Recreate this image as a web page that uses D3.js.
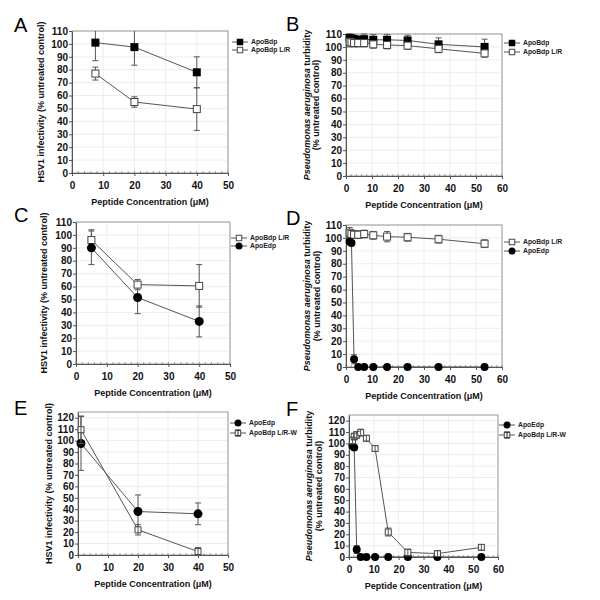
<!DOCTYPE html>
<html><head><meta charset="utf-8">
<script src="https://cdn.jsdelivr.net/npm/d3@7"></script>
<style>body{margin:0;background:#fff}svg{display:block}text{font-family:"Liberation Sans",Arial,sans-serif}</style>
</head><body><svg id="c" width="600" height="600"></svg>
<script>
// ---------- DATA ----------
const xTitle = "Peptide Concentration (\u03bcM)";
const hsvTitle = "HSV1 infectivity (% untreated control)";
const lblApoBdp = "ApoBdp", lblLR = "ApoBdp L/R", lblEdp = "ApoEdp", lblLRW = "ApoBdp L/R-W";

// Panel A
const aX = [7.5, 20, 40];
const aApoBdp = [101, 97.5, 78];
const aApoBdpErr = [14, 14, 12];
const aApoBdpLR = [77, 55, 49.5];
const aApoBdpLRErr = [5, 4, 16.5];

// Panels B, D, F concentrations
const bX = [1.4, 2.1, 3.1, 4.7, 7.0, 10.5, 15.8, 23.7, 35.6, 53.3];
const bApoBdp = [107, 106.5, 106, 105.5, 106, 105.5, 105.5, 105, 102, 100];
const bApoBdpErr = [3, 3, 3, 3, 4, 4, 4, 4, 5, 6];
const bApoBdpLR = [104, 103.5, 103, 103, 103, 102, 101.5, 101, 98.5, 95];
const bApoBdpLRErr = [4, 3, 3, 3, 3, 3, 3, 3, 3, 3];

// Panel C
const cX = [5, 20, 40];
const cApoBdpLR = [96, 61.5, 60.5];
const cApoBdpLRErr = [8, 4, 16.5];
const cApoEdp = [90, 51.5, 33];
const cApoEdpErr = [13, 12.5, 12];

// Panel D
const dApoBdpLR = [104, 103, 102.5, 102.5, 103, 102, 101, 100.5, 99, 95.5];
const dApoBdpLRErr = [4, 3, 3, 3, 3, 3, 4, 3, 3, 3];
const dApoEdp = [97, 96, 6, 0, 0, 0, 0, 0, 0, 0];
const dApoEdpErr = [2, 2, 3.5, 0, 0, 0, 0, 0, 0, 0];

// Panel E
const eX = [1, 20, 40];
const eApoEdp = [97.5, 38, 36];
const eApoEdpErr = [23.5, 14.5, 9.5];
const eApoBdpLRW = [109.5, 22, 3];
const eApoBdpLRWErr = [12, 4.5, 3.5];

// Panel F
const fApoEdp = [98, 96.5, 6.5, 0, 0, 0, 0, 0, 0, 0];
const fApoEdpErr = [2, 2, 3.5, 0, 0, 0, 0, 0, 0, 0];
const fApoBdpLRW = [102.5, 106, 107.5, 109.5, 104.5, 95.5, 22, 4, 3, 8.5];
const fApoBdpLRWErr = [3, 3, 3, 3, 2.5, 2.5, 3.5, 3, 2.5, 2.5];

// ---------- DRAWING ----------
const svg = d3.select("#c");
const lineCol = "#555", errCol = "#555";

function drawMarker(g, type, cx, cy, s) {
  if (type === "sqFill") {
    g.append("rect").attr("x", cx - s/2).attr("y", cy - s/2).attr("width", s).attr("height", s).attr("fill", "#000");
  } else if (type === "sqOpen" || type === "sqErr") {
    g.append("rect").attr("x", cx - s/2 + 0.5).attr("y", cy - s/2 + 0.5).attr("width", s - 1).attr("height", s - 1)
      .attr("fill", "#fff").attr("stroke", "#444").attr("stroke-width", 1);
  } else if (type === "circle") {
    g.append("circle").attr("cx", cx).attr("cy", cy).attr("r", s/2).attr("fill", "#000");
  }
}

function panel(cfg) {
  const g = svg.append("g");
  const x = d3.scaleLinear().domain([0, cfg.xMax]).range([cfg.left, cfg.right]);
  const y = d3.scaleLinear().domain([0, cfg.yMax]).range([cfg.bottom, cfg.top]);
  const xt = d3.range(0, cfg.xMax + 1, 10);
  const yt = d3.range(0, cfg.yTop + 1, 10);
  // grid
  g.selectAll(null).data(xt.slice(1)).enter().append("line")
    .attr("x1", d => x(d)).attr("x2", d => x(d)).attr("y1", cfg.top).attr("y2", cfg.bottom)
    .attr("stroke", "#e8e8e8").attr("stroke-width", 0.8);
  g.selectAll(null).data(yt.slice(1)).enter().append("line")
    .attr("x1", cfg.left).attr("x2", cfg.right).attr("y1", d => y(d)).attr("y2", d => y(d))
    .attr("stroke", "#e8e8e8").attr("stroke-width", 0.8);
  // border
  g.append("rect").attr("x", cfg.left).attr("y", cfg.top).attr("width", cfg.right - cfg.left).attr("height", cfg.bottom - cfg.top)
    .attr("fill", "none").attr("stroke", "#999").attr("stroke-width", 1);
  // axes
  const ax = g.append("g").attr("transform", `translate(0,${cfg.bottom})`)
    .call(d3.axisBottom(x).tickValues(xt).tickSize(3).tickSizeOuter(0).tickFormat(d3.format("d")));
  ax.select(".domain").attr("stroke", "#555");
  ax.selectAll(".tick line").attr("stroke", "#555");
  ax.selectAll("text").attr("font-size", 10).attr("font-weight", "bold").attr("fill", "#111").attr("y", 9);
  // minor x ticks
  g.selectAll(null).data(d3.range(0, cfg.xMax + 0.01, 2)).enter().append("line")
    .attr("x1", d => x(d)).attr("x2", d => x(d)).attr("y1", cfg.bottom).attr("y2", cfg.bottom - 2)
    .attr("stroke", "#777").attr("stroke-width", 0.7);
  const ay = g.append("g").attr("transform", `translate(${cfg.left},0)`)
    .call(d3.axisLeft(y).tickValues(yt).tickSize(3).tickSizeOuter(0).tickFormat(d3.format("d")));
  ay.select(".domain").attr("stroke", "#555");
  ay.selectAll(".tick line").attr("stroke", "#555");
  ay.selectAll("text").attr("font-size", 10).attr("font-weight", "bold").attr("fill", "#111").attr("x", -4);

  // series
  cfg.series.forEach(s => {
    const pts = s.x.map((xv, i) => ({x: xv, y: s.y[i], e: s.e[i]}));
    g.append("path").datum(pts)
      .attr("d", d3.line().x(d => x(d.x)).y(d => y(d.y)))
      .attr("fill", "none").attr("stroke", lineCol).attr("stroke-width", 1);
  });
  function drawErr(s) {
    s.x.forEach((xv, i) => {
      const e = s.e[i]; if (!e) return;
      const hi = s.y[i] + e, lo = s.y[i] - e;
      const hiC = Math.min(hi, cfg.yMax), loC = Math.max(lo, 0);
      const cx = x(xv);
      g.append("line").attr("x1", cx).attr("x2", cx).attr("y1", y(hiC)).attr("y2", y(loC))
        .attr("stroke", errCol).attr("stroke-width", 1);
      if (hi <= cfg.yMax) g.append("line").attr("x1", cx - 3).attr("x2", cx + 3).attr("y1", y(hi)).attr("y2", y(hi)).attr("stroke", errCol);
      if (lo >= 0) g.append("line").attr("x1", cx - 3).attr("x2", cx + 3).attr("y1", y(lo)).attr("y2", y(lo)).attr("stroke", errCol);
    });
  }
  cfg.series.forEach(s => { if (s.m !== "sqErr") drawErr(s); });
  cfg.series.forEach(s => {
    s.x.forEach((xv, i) => drawMarker(g, s.m, x(xv), y(s.y[i]), s.size));
  });
  cfg.series.forEach(s => { if (s.m === "sqErr") drawErr(s); });

  // legend
  cfg.series.forEach((s, i) => {
    const ly = cfg.legY + i * cfg.legDy, lx = cfg.legX;
    g.append("line").attr("x1", lx - 8).attr("x2", lx + 8).attr("y1", ly).attr("y2", ly).attr("stroke", lineCol);
    drawMarker(g, s.m, lx, ly, s.m === "circle" ? 7 : 6.5);
    if (s.m === "sqErr") {
      g.append("line").attr("x1", lx).attr("x2", lx).attr("y1", ly - 3).attr("y2", ly + 3).attr("stroke", "#222");
      g.append("line").attr("x1", lx - 2.5).attr("x2", lx + 2.5).attr("y1", ly - 3).attr("y2", ly - 3).attr("stroke", "#222");
      g.append("line").attr("x1", lx - 2.5).attr("x2", lx + 2.5).attr("y1", ly + 3).attr("y2", ly + 3).attr("stroke", "#222");
    }
    g.append("text").attr("x", lx + 11).attr("y", ly).attr("dy", "0.35em")
      .attr("font-size", 6.8).attr("font-weight", "bold").attr("fill", "#222").text(s.label);
  });

  // titles
  g.append("text").attr("x", (cfg.left + cfg.right) / 2).attr("y", cfg.bottom + 32)
    .attr("text-anchor", "middle").attr("font-size", 9).attr("font-weight", "bold").attr("fill", "#111").text(xTitle);
  const cy = (cfg.top + cfg.bottom) / 2;
  if (cfg.yType === "hsv") {
    g.append("text").attr("transform", `translate(${cfg.yTitleX},${cy}) rotate(-90)`).attr("dy", "0.35em")
      .attr("text-anchor", "middle").attr("font-size", 9).attr("font-weight", "bold").attr("fill", "#111").text(hsvTitle);
  } else {
    const t1 = g.append("text").attr("transform", `translate(${cfg.yTitleX},${cy}) rotate(-90)`).attr("dy", "0.35em")
      .attr("text-anchor", "middle").attr("font-size", 9).attr("font-weight", "bold").attr("fill", "#111");
    t1.append("tspan").attr("font-style", "italic").text("Pseudomonas aeruginosa");
    t1.append("tspan").text(" turbidity");
    g.append("text").attr("transform", `translate(${cfg.yTitleX + 9.5},${cy}) rotate(-90)`).attr("dy", "0.35em")
      .attr("text-anchor", "middle").attr("font-size", 9).attr("font-weight", "bold").attr("fill", "#111").text("(% untreated control)");
  }
  // letter
  g.append("text").attr("x", cfg.letX).attr("y", cfg.letY).attr("font-size", 20).attr("fill", "#000").text(cfg.letter);
}

panel({letter: "A", letX: 14, letY: 32, left: 72, right: 228, top: 31, bottom: 173, xMax: 50, yMax: 110, yTop: 110,
  yType: "hsv", yTitleX: 41, legX: 240, legY: 42, legDy: 8,
  series: [
    {label: lblApoBdp, m: "sqFill", size: 8, x: aX, y: aApoBdp, e: aApoBdpErr},
    {label: lblLR, m: "sqOpen", size: 8, x: aX, y: aApoBdpLR, e: aApoBdpLRErr}]});

panel({letter: "B", letX: 286, letY: 31, left: 346, right: 502, top: 34, bottom: 176, xMax: 60, yMax: 110, yTop: 110,
  yType: "pa", yTitleX: 306.5, legX: 512, legY: 43, legDy: 9,
  series: [
    {label: lblApoBdp, m: "sqFill", size: 8, x: bX, y: bApoBdp, e: bApoBdpErr},
    {label: lblLR, m: "sqOpen", size: 8, x: bX, y: bApoBdpLR, e: bApoBdpLRErr}]});

panel({letter: "C", letX: 14, letY: 222, left: 76, right: 230, top: 222, bottom: 364, xMax: 50, yMax: 110, yTop: 110,
  yType: "hsv", yTitleX: 43.5, legX: 239, legY: 238, legDy: 8,
  series: [
    {label: lblLR, m: "sqOpen", size: 8, x: cX, y: cApoBdpLR, e: cApoBdpLRErr},
    {label: lblEdp, m: "circle", size: 9, x: cX, y: cApoEdp, e: cApoEdpErr}]});

panel({letter: "D", letX: 286, letY: 225, left: 346, right: 502, top: 225, bottom: 367, xMax: 60, yMax: 110, yTop: 110,
  yType: "pa", yTitleX: 307, legX: 512, legY: 242, legDy: 9,
  series: [
    {label: lblLR, m: "sqOpen", size: 8, x: bX, y: dApoBdpLR, e: dApoBdpLRErr},
    {label: lblEdp, m: "circle", size: 8, x: bX, y: dApoEdp, e: dApoEdpErr}]});

panel({letter: "E", letX: 14, letY: 415, left: 78, right: 228, top: 412, bottom: 555, xMax: 50, yMax: 125, yTop: 120,
  yType: "hsv", yTitleX: 49, legX: 238, legY: 423, legDy: 10,
  series: [
    {label: lblEdp, m: "circle", size: 9, x: eX, y: eApoEdp, e: eApoEdpErr},
    {label: lblLRW, m: "sqErr", size: 7, x: eX, y: eApoBdpLRW, e: eApoBdpLRWErr}]});

panel({letter: "F", letX: 286, letY: 416, left: 349, right: 498, top: 415, bottom: 557, xMax: 60, yMax: 125, yTop: 120,
  yType: "pa", yTitleX: 309, legX: 507, legY: 425, legDy: 10,
  series: [
    {label: lblEdp, m: "circle", size: 8, x: bX, y: fApoEdp, e: fApoEdpErr},
    {label: lblLRW, m: "sqErr", size: 7, x: bX, y: fApoBdpLRW, e: fApoBdpLRWErr}]});
</script></body></html>
